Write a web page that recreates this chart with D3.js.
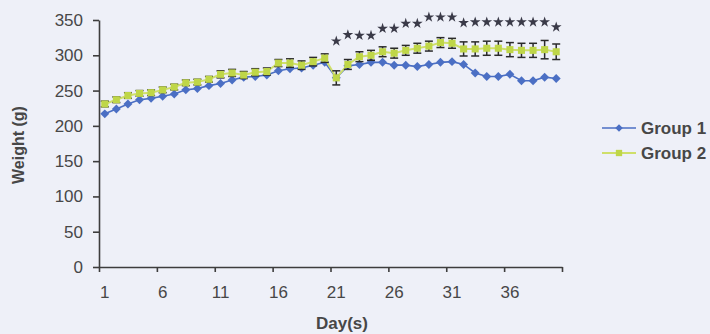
<!DOCTYPE html>
<html>
<head>
<meta charset="utf-8">
<script src="https://cdn.jsdelivr.net/npm/d3@7"></script>
<style>
  html, body { margin: 0; padding: 0; background: #eef0f8; }
  svg { display: block; font-family: "Liberation Sans", Arial, sans-serif; }
</style>
</head>
<body>
<svg id="chart" width="710" height="334"></svg>
<script>
// days 1..40
const days = d3.range(1, 41);
const dayLabels = [1, 6, 11, 16, 21, 26, 31, 36];
const yTicks = [0, 50, 100, 150, 200, 250, 300, 350];
const seriesNames = ['Group 1', 'Group 2'];

const group1 = [217, 224, 231, 237, 239, 242, 245, 251, 253, 257,
                260, 265, 269, 270, 272, 278, 281, 282, 286, 290,
                268, 285, 287, 290, 290, 286, 286, 284, 287, 290,
                291, 287, 275, 270, 270, 273, 264, 264, 269, 267];
const group2 = [231, 237, 243, 246, 247, 251, 255, 261, 262, 266,
                273, 275, 272, 276, 277, 289, 289, 286, 291, 296,
                268, 287, 298, 300, 305, 303, 307, 310, 313, 318,
                317, 309, 309, 310, 310, 308, 307, 307, 308, 305];
const group2Err = [4, 4, 4, 4, 4, 4, 4, 4, 4, 4,
                   5, 5, 5, 5, 5, 5, 6, 6, 6, 6,
                   10, 7, 7, 7, 7, 7, 7, 7, 7, 7,
                   7, 10, 10, 10, 10, 10, 10, 10, 13, 11];
// significance stars, days 21..40, height in g
const starDays = d3.range(21, 41);
const starY = [320, 329, 328, 328, 338, 338, 345, 345, 354, 354,
               354, 346, 347, 347, 347, 347, 347, 347, 347, 340];

const svg = d3.select('#chart');
const plotLeft = 99, plotRight = 562, plotTop = 20, plotBottom = 267;

const x = d3.scaleBand().domain(days).range([plotLeft, plotRight]).padding(0);
const xb = d3.scaleLinear().domain([0, 40]).range([plotLeft, plotRight]);
const y = d3.scaleLinear().domain([0, 350]).range([plotBottom, plotTop]);
const cx = d => x(d) + x.bandwidth() / 2;

const axisColor = '#3d3d3d';
const textColor = '#474747';
const blue = '#4b6fc4';
const green = '#bfd648';

// y axis
const gy = svg.append('g')
  .attr('transform', `translate(${plotLeft},0)`)
  .call(d3.axisLeft(y).tickValues(yTicks).tickSize(6).tickPadding(10).tickSizeOuter(0));
gy.select('.domain').attr('stroke', axisColor).attr('stroke-width', 1.6);
gy.selectAll('.tick line').attr('stroke', axisColor).attr('stroke-width', 1.6);
gy.selectAll('.tick text').attr('fill', textColor).attr('font-size', 17);

// x axis: ticks on category boundaries, labels on categories
const gxb = svg.append('g')
  .attr('transform', `translate(0,${plotBottom})`)
  .call(d3.axisBottom(xb).tickValues(d3.range(0, 41, 5)).tickSize(5).tickSizeOuter(0).tickFormat(''));
gxb.select('.domain').attr('stroke', axisColor).attr('stroke-width', 1.6);
gxb.selectAll('.tick line').attr('stroke', axisColor).attr('stroke-width', 1.6);

const gx = svg.append('g')
  .attr('transform', `translate(0,${plotBottom})`)
  .call(d3.axisBottom(x).tickValues(dayLabels).tickSize(0).tickPadding(19));
gx.select('.domain').remove();
gx.selectAll('.tick text').attr('fill', textColor).attr('font-size', 17);

// axis titles
svg.append('text')
  .attr('x', 342).attr('y', 329)
  .attr('text-anchor', 'middle')
  .attr('font-size', 17).attr('font-weight', 'bold').attr('fill', textColor)
  .text('Day(s)');

svg.append('text')
  .attr('transform', 'translate(24,145) rotate(-90)')
  .attr('text-anchor', 'middle')
  .attr('font-size', 16).attr('font-weight', 'bold').attr('fill', textColor)
  .text('Weight (g)');

// group 1 line + diamonds
const line = d3.line().x(d => cx(d[0])).y(d => y(d[1]));
const g1 = days.map((d, i) => [d, group1[i]]);
const g2 = days.map((d, i) => [d, group2[i], group2Err[i]]);

svg.append('path').datum(g1)
  .attr('fill', 'none').attr('stroke', blue).attr('stroke-width', 1.6)
  .attr('d', line);
svg.append('g').selectAll('path').data(g1).enter().append('path')
  .attr('transform', d => `translate(${cx(d[0])},${y(d[1])}) rotate(45)`)
  .attr('d', d3.symbol().type(d3.symbolSquare).size(40))
  .attr('fill', blue);

// group 2 line, error bars, squares
svg.append('path').datum(g2)
  .attr('fill', 'none').attr('stroke', '#cfdf6a').attr('stroke-width', 2)
  .attr('d', line);

const eb = svg.append('g').attr('stroke', '#2a2a2a').attr('stroke-width', 1.5);
g2.forEach(d => {
  const xc = cx(d[0]);
  eb.append('line').attr('x1', xc).attr('x2', xc)
    .attr('y1', y(d[1] - d[2])).attr('y2', y(d[1] + d[2]));
  eb.append('line').attr('x1', xc - 4).attr('x2', xc + 4)
    .attr('y1', y(d[1] - d[2])).attr('y2', y(d[1] - d[2]));
  eb.append('line').attr('x1', xc - 4).attr('x2', xc + 4)
    .attr('y1', y(d[1] + d[2])).attr('y2', y(d[1] + d[2]));
});

svg.append('g').selectAll('path').data(g2).enter().append('path')
  .attr('transform', d => `translate(${cx(d[0])},${y(d[1])})`)
  .attr('d', d3.symbol().type(d3.symbolSquare).size(50))
  .attr('fill', green);

// stars
svg.append('g').selectAll('path').data(starDays).enter().append('path')
  .attr('transform', (d, i) => `translate(${cx(d)},${y(starY[i])})`)
  .attr('d', d3.symbol().type(d3.symbolStar).size(36))
  .attr('fill', '#3a3a48');

// legend
const legend = svg.append('g');
const legColors = [blue, '#cfdf6a'];
seriesNames.forEach((name, i) => {
  const ly = 128 + i * 25;
  legend.append('line')
    .attr('x1', 602).attr('x2', 636).attr('y1', ly).attr('y2', ly)
    .attr('stroke', legColors[i]).attr('stroke-width', i ? 2 : 1.6);
  if (i === 0) {
    legend.append('path')
      .attr('transform', `translate(619,${ly}) rotate(45)`)
      .attr('d', d3.symbol().type(d3.symbolSquare).size(28))
      .attr('fill', blue);
  } else {
    legend.append('path')
      .attr('transform', `translate(619,${ly})`)
      .attr('d', d3.symbol().type(d3.symbolSquare).size(40))
      .attr('fill', green);
  }
  legend.append('text')
    .attr('x', 641).attr('y', ly).attr('dy', '0.35em')
    .attr('font-size', 17).attr('font-weight', 'bold').attr('fill', textColor)
    .text(name);
});
</script>
</body>
</html>
